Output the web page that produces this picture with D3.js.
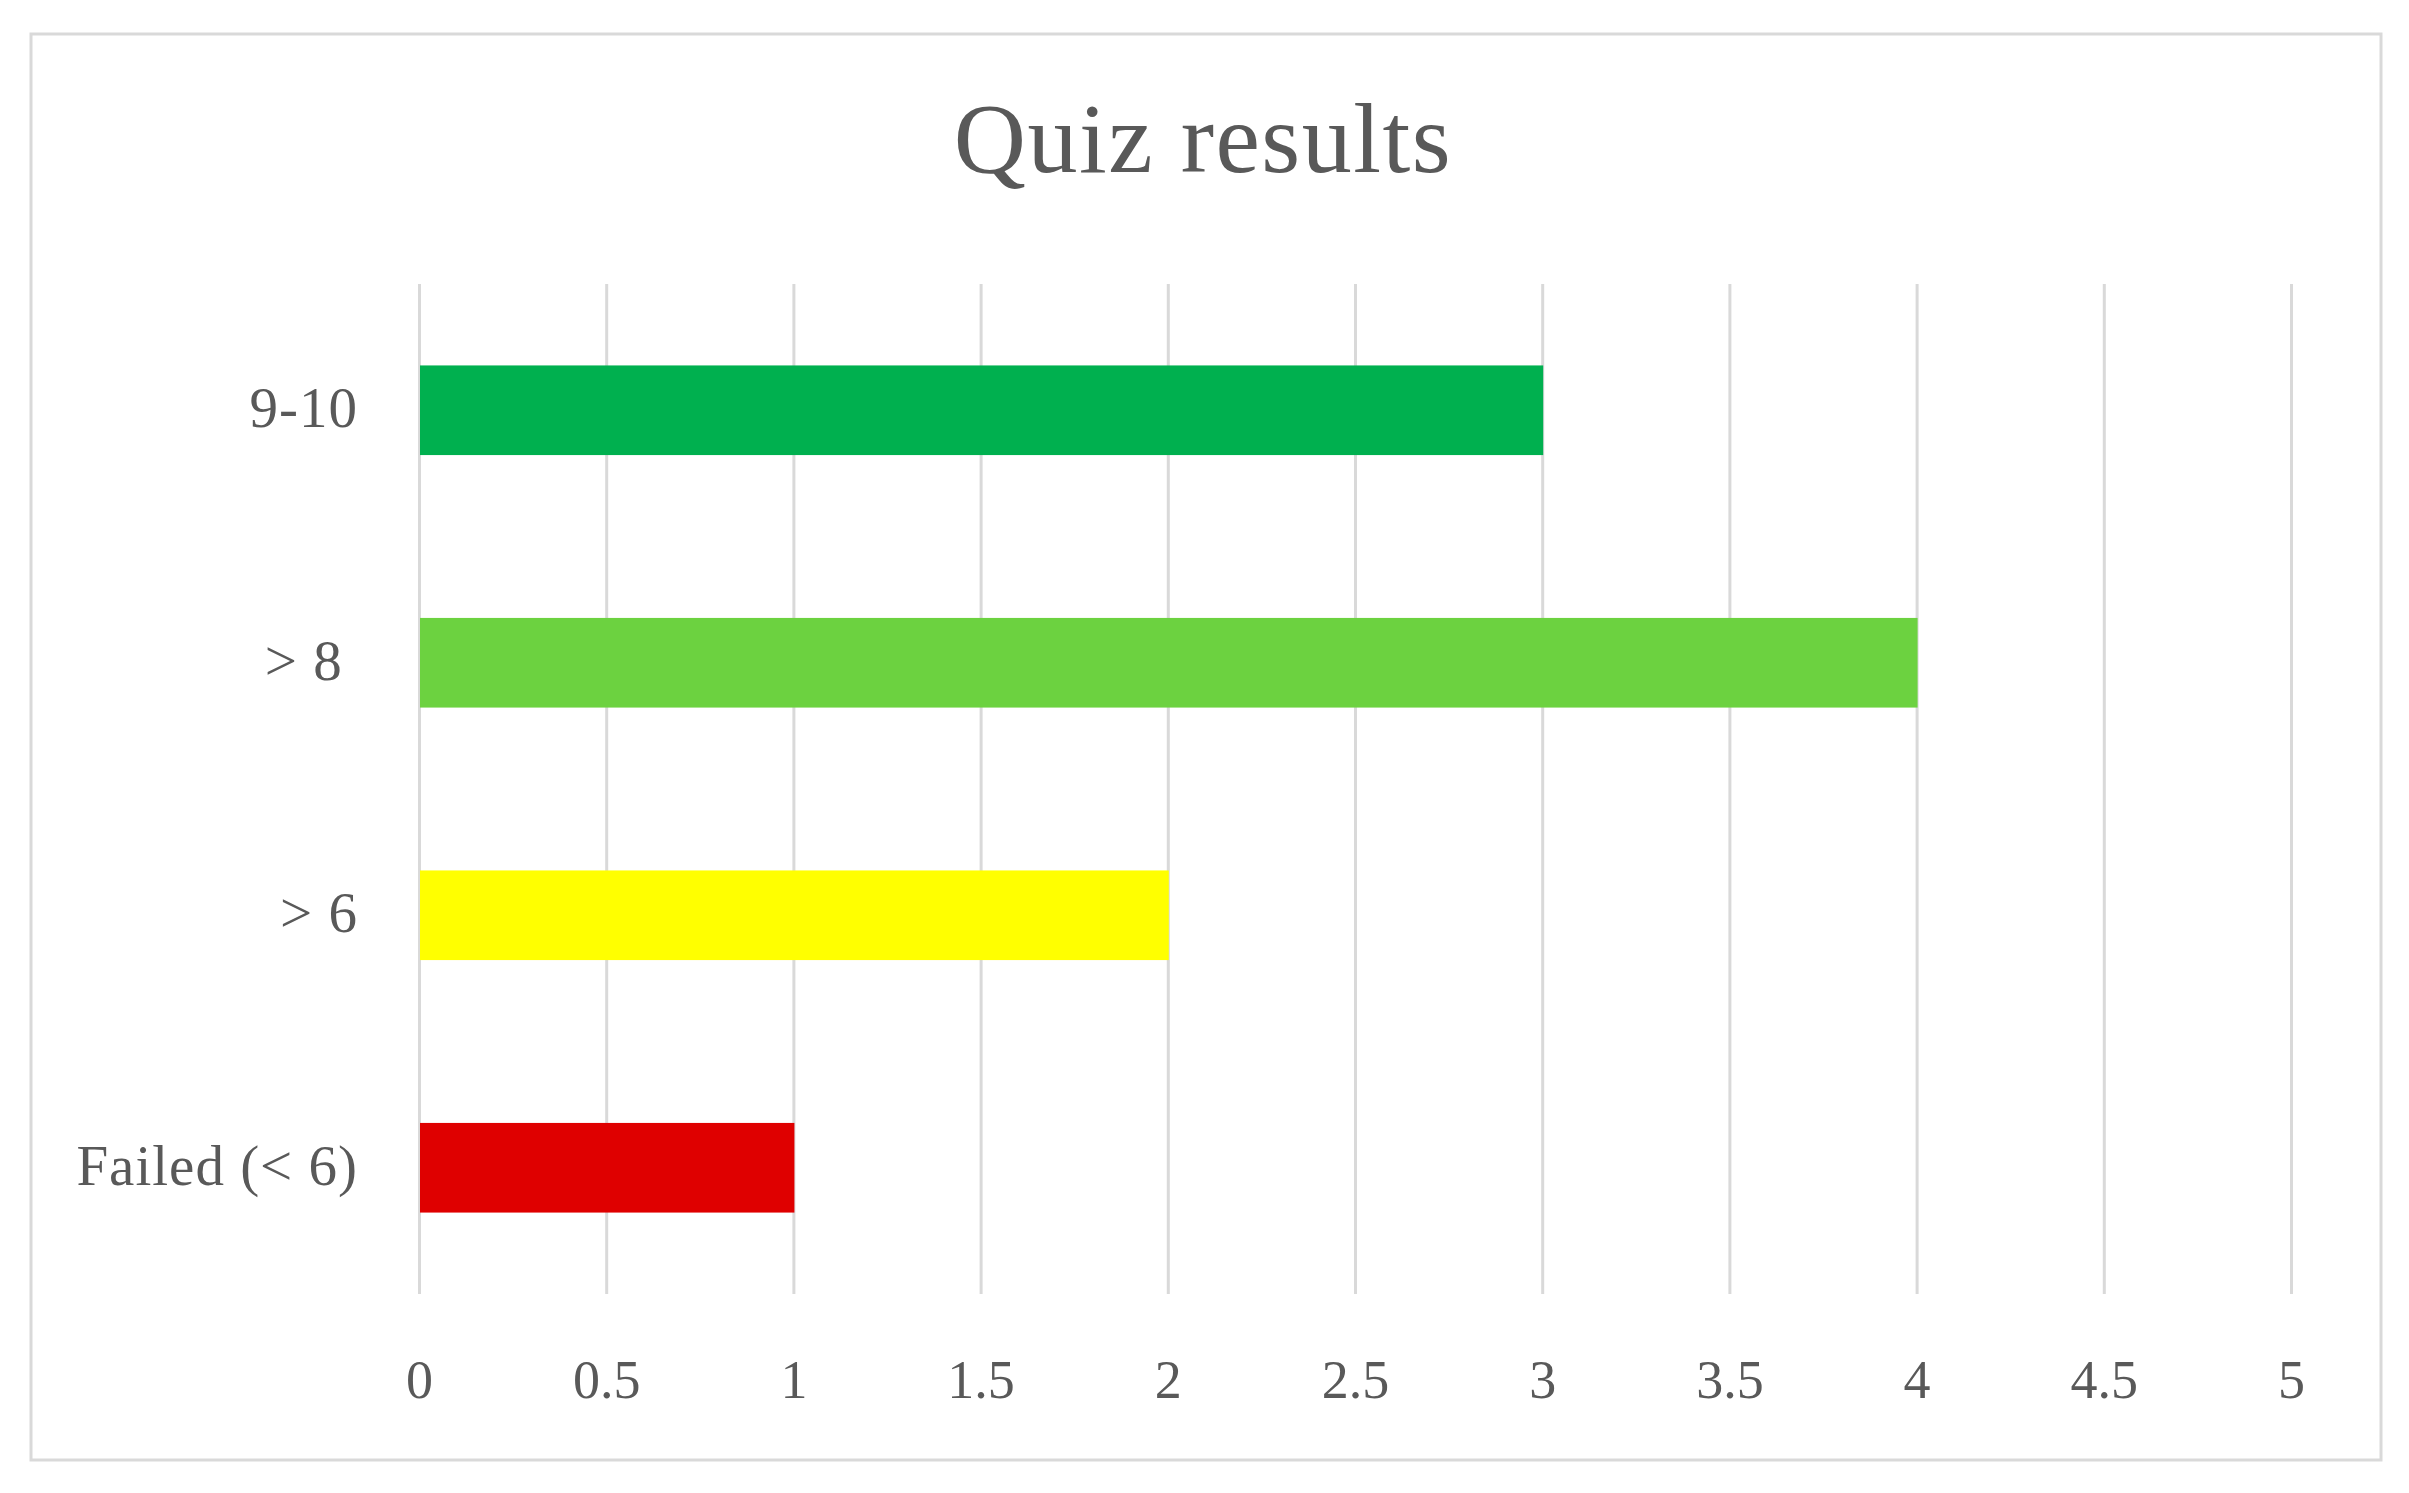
<!DOCTYPE html>
<html>
<head>
<meta charset="utf-8">
<script src="https://cdn.jsdelivr.net/npm/d3@7"></script>
<style>
  body { margin: 0; background: #fff; }
  svg { display: block; }
  .axis text { font-family: 'Liberation Serif', serif; fill: #595959; }
  .axis .domain { display: none; }
  .axis-y line { display: none; }
  .axis-x line { stroke: #d9d9d9; stroke-width: 3; }
</style>
</head>
<body>
<svg id="chart"></svg>
<script>
const categories = ['9-10', '> 8 ', '> 6', 'Failed (< 6)'];
const counts = [3, 4, 2, 1];
const barColors = ['#00b04f', '#6cd240', '#ffff00', '#df0000'];
const xTicks = [0, 0.5, 1, 1.5, 2, 2.5, 3, 3.5, 4, 4.5, 5];
const title = 'Quiz results';

const w = 2409;
const h = 1493;
const margin = { top: 284, right: 118, bottom: 199, left: 419 };
const width = w - margin.left - margin.right;
const height = h - margin.top - margin.bottom;

const svg = d3.select('#chart').attr('width', w).attr('height', h);

// outer chart frame
svg.append('rect')
  .attr('x', 31)
  .attr('y', 34)
  .attr('width', 2350)
  .attr('height', 1426)
  .attr('fill', '#fff')
  .attr('stroke', '#d9d9d9')
  .attr('stroke-width', 3);

svg.append('text')
  .attr('x', 1203)
  .attr('y', 172)
  .attr('text-anchor', 'middle')
  .style('font-family', "'Liberation Serif', serif")
  .style('font-size', '100px')
  .style('letter-spacing', '1.5px')
  .style('fill', '#595959')
  .text(title);

const g = svg.append('g').attr('transform', `translate(${margin.left},${margin.top})`);

const x = d3.scaleLinear().domain([0, 5]).range([0, width]);
const y = d3.scaleBand().domain(categories).range([0, height]).paddingInner(0.645).paddingOuter(0.3225);

const axisX = d3.axisBottom(x)
  .tickValues(xTicks)
  .tickSize(height)
  .tickPadding(66)
  .tickFormat(d => d3.format('')(d));

g.append('g')
  .attr('class', 'axis axis-x')
  .call(axisX)
  .call(s => s.selectAll('text').style('font-size', '54px'));

g.selectAll('.bar')
  .data(counts)
  .join('rect')
  .attr('class', 'bar')
  .attr('x', x(0) + 1)
  .attr('y', (d, i) => y(categories[i]))
  .attr('width', d => x(d) - x(0))
  .attr('height', y.bandwidth())
  .attr('fill', (d, i) => barColors[i]);

const axisY = d3.axisLeft(y).tickSize(0).tickPadding(61);

g.append('g')
  .attr('class', 'axis axis-y')
  .call(axisY)
  .call(s => s.selectAll('text')
    .attr('dy', '0.3em')
    .style('font-size', '57px')
    .style('letter-spacing', '1px')
    .style('white-space', 'pre'));
</script>
</body>
</html>
